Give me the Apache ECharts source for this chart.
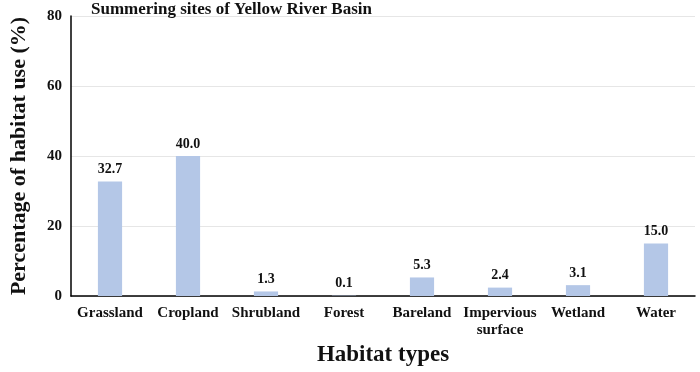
<!DOCTYPE html>
<html><head><meta charset="utf-8">
<script src="https://cdn.jsdelivr.net/npm/echarts@6/dist/echarts.min.js"></script>
<style>html,body{margin:0;padding:0;background:#fff}#c{width:700px;height:372px}</style>
</head><body><div id="c"></div>
<script>
const categories = ['Grassland','Cropland','Shrubland','Forest','Bareland','Impervious\nsurface','Wetland','Water'];
const values = [32.7, 40.0, 1.3, 0.1, 5.3, 2.4, 3.1, 15.0];
const yTicks = [0, 20, 40, 60, 80];
const titleText = 'Summering sites of Yellow River Basin';
const xName = 'Habitat types';
const yName = 'Percentage of habitat use (%)';

const font = '"Liberation Serif","Times New Roman",serif';
const chart = echarts.init(document.getElementById('c'), null, {renderer:'canvas'});
chart.setOption({
  animation:false,
  title:{text:titleText,left:91,top:1,padding:0,textStyle:{fontFamily:font,fontWeight:'bold',fontSize:17,lineHeight:17,color:'#111'}},
  grid:{left:68,right:5,top:16,bottom:76,containLabel:false},
  xAxis:{type:'category',data:categories,
    axisLine:{lineStyle:{color:'#000',width:1.5}},axisTick:{show:false},
    axisLabel:{fontFamily:font,fontWeight:'bold',fontSize:15,color:'#111',margin:9,interval:0,lineHeight:17},
    name:xName,nameLocation:'middle',nameGap:45,
    nameTextStyle:{fontFamily:font,fontWeight:'bold',fontSize:23,color:'#111'}},
  yAxis:{type:'value',min:yTicks[0],max:yTicks[yTicks.length-1],interval:20,
    axisLine:{show:true,lineStyle:{color:'#000',width:1.5}},axisTick:{show:false},
    splitLine:{lineStyle:{color:'#e6e6e6',width:1}},
    axisLabel:{fontFamily:font,fontWeight:'bold',fontSize:15,color:'#111',margin:9},
    name:yName,nameLocation:'middle',nameGap:41,
    nameTextStyle:{fontFamily:font,fontWeight:'bold',fontSize:22,color:'#111'}},
  series:[{type:'bar',data:values,barWidth:'31%',
    itemStyle:{color:'#b4c7e7'},
    label:{show:true,position:'top',distance:5,formatter:p=>p.value.toFixed(1),
      fontFamily:font,fontWeight:'bold',fontSize:14,color:'#111'}}]
});
</script></body></html>
